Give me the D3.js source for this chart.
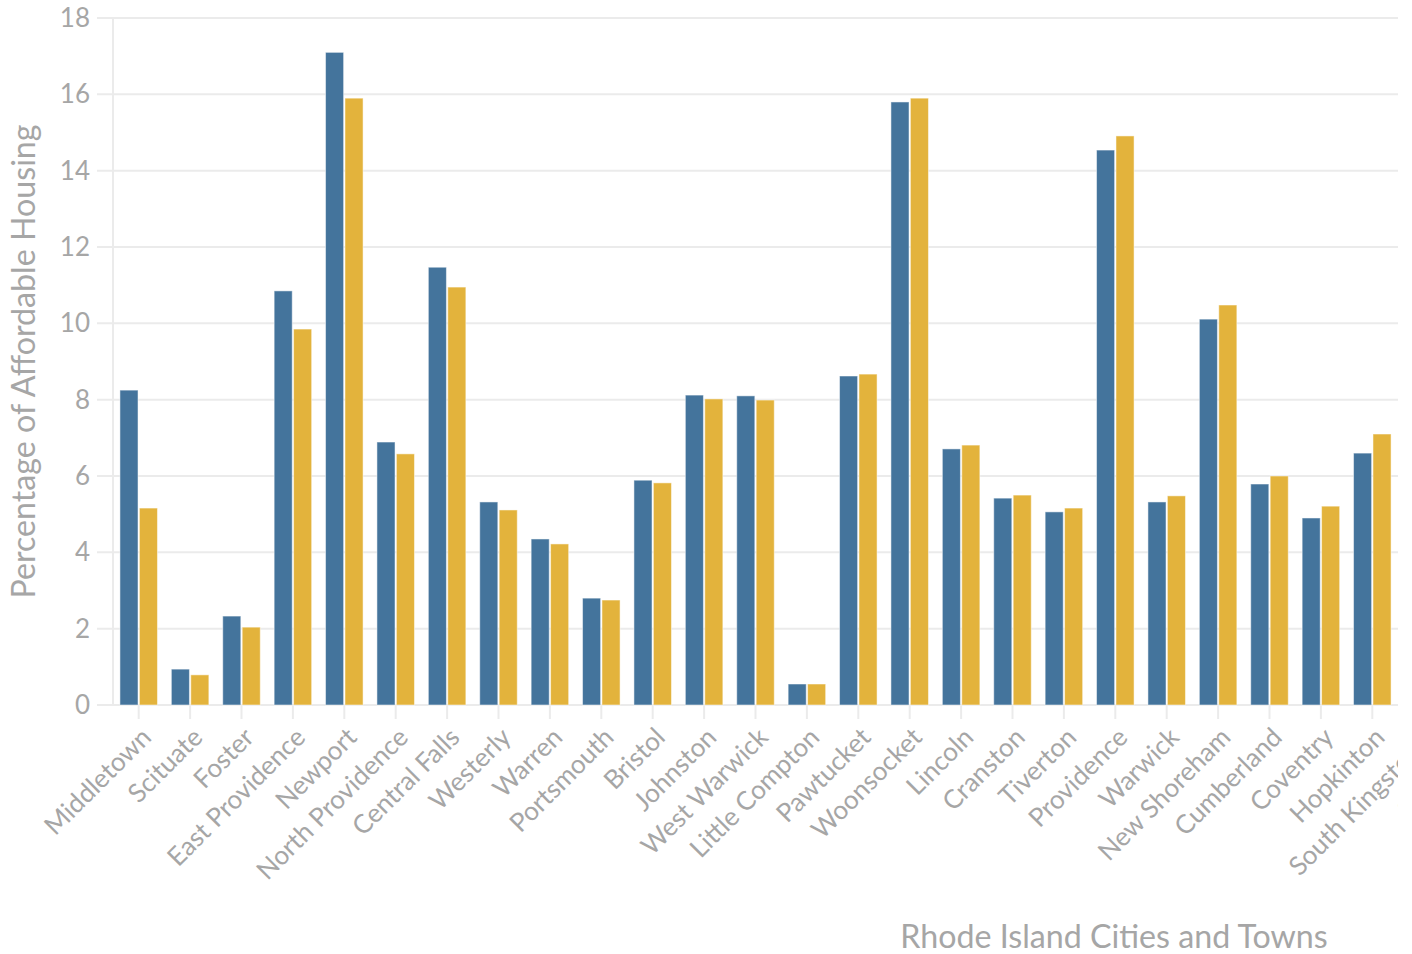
<!DOCTYPE html>
<html>
<head>
<meta charset="utf-8">
<script src="https://cdn.jsdelivr.net/npm/d3@7"></script>
<style>
  html, body { margin: 0; padding: 0; background: #fff; overflow: hidden; }
  svg { display: block; overflow: hidden; }
  text { font-family: "Source Sans Pro", Lato, "Open Sans", sans-serif; }
</style>
</head>
<body>
<svg id="chart" width="1398" height="954"></svg>
<script>
// ---- data ----
const categories = [
  "Middletown", "Scituate", "Foster", "East Providence", "Newport",
  "North Providence", "Central Falls", "Westerly", "Warren", "Portsmouth",
  "Bristol", "Johnston", "West Warwick", "Little Compton", "Pawtucket",
  "Woonsocket", "Lincoln", "Cranston", "Tiverton", "Providence",
  "Warwick", "New Shoreham", "Cumberland", "Coventry", "Hopkinton",
  "South Kingstown", "Smithfield"
];
const seriesA = [
  8.25, 0.94, 2.33, 10.85, 17.1,
  6.89, 11.47, 5.32, 4.35, 2.80,
  5.89, 8.12, 8.10, 0.55, 8.62,
  15.8, 6.71, 5.42, 5.06, 14.54,
  5.32, 10.11, 5.79, 4.90, 6.60,
  null, null
];
const seriesB = [
  5.16, 0.79, 2.04, 9.85, 15.9,
  6.58, 10.95, 5.11, 4.22, 2.75,
  5.82, 8.02, 7.99, 0.55, 8.67,
  15.9, 6.81, 5.50, 5.16, 14.91,
  5.48, 10.48, 6.00, 5.21, 7.10,
  null, null
];
const seriesNames = ["seriesA", "seriesB"];
const yTicks = [0, 2, 4, 6, 8, 10, 12, 14, 16, 18];
const xTitle = "Rhode Island Cities and Towns";
const yTitle = "Percentage of Affordable Housing";

// ---- layout ----
const svg = d3.select("#chart");
const plotLeft = 113, plotTop = 18, plotBottom = 705, step = 51.4;
const svgW = 1398;
const colors = { seriesA: "#44749c", seriesB: "#e3b33c" };

const x0 = d3.scaleBand()
  .domain(categories)
  .range([plotLeft, plotLeft + categories.length * step])
  .paddingInner(0.27)
  .paddingOuter(0.135);
const x1 = d3.scaleBand()
  .domain(seriesNames)
  .range([0, x0.bandwidth()])
  .paddingInner(0.07);
const y = d3.scaleLinear().domain([0, 18]).range([plotBottom, plotTop]);

const rows = categories.map((c, i) => ({ cat: c, seriesA: seriesA[i], seriesB: seriesB[i] }));

// gridlines
const grid = svg.append("g");
grid.selectAll("line.h").data(yTicks).join("line")
  .attr("x1", plotLeft - 16).attr("x2", svgW)
  .attr("y1", d => y(d)).attr("y2", d => y(d))
  .attr("stroke", "#ebebeb").attr("stroke-width", 2);
grid.append("line")
  .attr("x1", plotLeft).attr("x2", plotLeft)
  .attr("y1", y(18)).attr("y2", y(0))
  .attr("stroke", "#ebebeb").attr("stroke-width", 2);

// y tick labels
svg.append("g").selectAll("text").data(yTicks).join("text")
  .attr("x", 90).attr("y", d => y(d)).attr("dy", "0.35em")
  .attr("text-anchor", "end")
  .attr("fill", "#a6a6a6").attr("font-size", 26)
  .text(d => d);

// x ticks
const center = c => x0(c) + x0.bandwidth() / 2;
svg.append("g").selectAll("line").data(categories).join("line")
  .attr("x1", center).attr("x2", center)
  .attr("y1", plotBottom).attr("y2", plotBottom + 14)
  .attr("stroke", "#ebebeb").attr("stroke-width", 2);

// bars
const groups = svg.append("g").selectAll("g").data(rows).join("g")
  .attr("transform", d => `translate(${x0(d.cat)},0)`);
groups.selectAll("rect")
  .data(d => seriesNames.filter(k => d[k] != null).map(k => ({ key: k, value: d[k] })))
  .join("rect")
  .attr("x", d => x1(d.key))
  .attr("width", x1.bandwidth())
  .attr("y", d => y(d.value))
  .attr("height", d => y(0) - y(d.value))
  .attr("fill", d => colors[d.key])
  .attr("stroke", "#ffffff").attr("stroke-opacity", 0.5).attr("stroke-width", 1);

// x tick labels
svg.append("g").selectAll("text").data(categories).join("text")
  .attr("transform", c => `translate(${center(c) + 14},${739}) rotate(-45)`)
  .attr("text-anchor", "end")
  .attr("fill", "#a6a6a6").attr("font-size", 26)
  .text(c => c);

// axis titles
svg.append("text")
  .attr("transform", `translate(35,${(plotTop + plotBottom) / 2}) rotate(-90)`)
  .attr("text-anchor", "middle")
  .attr("fill", "#a6a6a6").attr("font-size", 32.2)
  .text(yTitle);
svg.append("text")
  .attr("x", 1114).attr("y", 948)
  .attr("text-anchor", "middle")
  .attr("fill", "#a6a6a6").attr("font-size", 32.2)
  .text(xTitle);
</script>
</body>
</html>
